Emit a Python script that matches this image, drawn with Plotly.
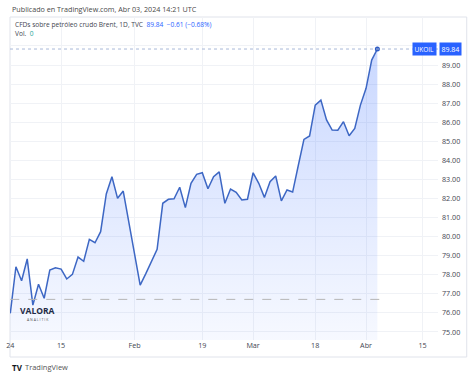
import plotly.graph_objects as go
import pandas as pd

# ---- data ----
closes = [75.98, 78.42, 77.69, 78.83, 76.41, 77.50, 76.77, 78.25, 78.37, 78.30,
          77.78, 78.02, 78.93, 78.71, 79.86, 79.68, 80.26, 82.24, 83.14, 82.01,
          82.39, 80.75, 79.10, 77.46, 78.06, 78.70, 79.34, 81.75, 81.96, 81.99,
          82.59, 81.52, 82.80, 83.27, 83.35, 82.51, 83.14, 83.40, 81.75, 82.50,
          82.32, 81.92, 81.96, 83.35, 82.80, 82.06, 82.88, 83.18, 81.88, 82.45,
          82.34, 83.73, 85.10, 85.28, 86.90, 87.16, 86.12, 85.59, 85.58, 86.03,
          85.29, 85.68, 86.90, 87.78, 89.26, 89.84]
last_price = 89.84
ref_level = 76.71
tick_dates = ["2024-01-02", "2024-01-15", "2024-02-01", "2024-02-19",
              "2024-03-01", "2024-03-18", "2024-04-01", "2024-04-15"]
tick_labels = ["24", "15", "Feb", "19", "Mar", "18", "Abr", "15"]
y_ticks = list(range(75, 91))
y_labels = ["%.2f" % v for v in y_ticks[:-1]] + [""]   # 90.00 sits behind the price tag

# trading-day calendar (bar index axis like TradingView)
calendar = pd.bdate_range("2024-01-02", "2024-04-30")
calendar = [d for d in calendar if d != pd.Timestamp("2024-03-29")]
x_idx = list(range(len(closes)))
tick_idx = [calendar.index(pd.Timestamp(d)) for d in tick_dates]

W, H = 474, 378
L, R, T, B = 6, 438, 17, 340


def px(xp):
    return (xp - L) / (R - L)


def py(yp):
    return (B - yp) / (B - T)


blue = "#2962ff"
line_col = "#3d67c4"

fig = go.Figure()
fig.add_trace(go.Scatter(
    x=x_idx, y=closes, mode="lines",
    line=dict(color=line_col, width=1.5),
    fill="tozeroy",
    fillgradient=dict(type="vertical",
                      colorscale=[[0, "rgba(41,98,255,0.04)"], [1, "rgba(41,98,255,0.25)"]],
                      start=74.6, stop=last_price),
    hoverinfo="skip", showlegend=False))
fig.add_trace(go.Scatter(
    x=[x_idx[-1]], y=[closes[-1]], mode="markers",
    marker=dict(color="#2f5bc4", size=5), showlegend=False, hoverinfo="skip"))

shapes = [
    dict(type="line", xref="paper", yref="y", x0=0, x1=1, y0=last_price, y1=last_price,
         line=dict(color="#a9b8d8", width=1, dash="dot")),
    dict(type="line", xref="x", yref="y", x0=0, x1=65.6, y0=ref_level, y1=ref_level,
         line=dict(color="#b5b5b5", width=1, dash="dash")),
    dict(type="rect", xref="paper", yref="paper", x0=px(6), x1=px(467), y0=py(357), y1=py(17),
         line=dict(color="#e0e3eb", width=1), layer="below"),
]

ann = []
font = "Open Sans"
ann.append(dict(x=px(6), y=py(9), xref="paper", yref="paper", xanchor="left", yanchor="middle",
                text="Publicado en TradingView.com, Abr 03, 2024 14:21 UTC",
                showarrow=False, font=dict(family=font, size=7.2, color="#4a4a4a")))
ann.append(dict(x=px(9.5), y=py(24.5), xref="paper", yref="paper", xanchor="left", yanchor="middle",
                text='CFDs sobre petróleo crudo Brent, 1D, TVC  <span style="color:%s">89.84</span>  '
                     '<span style="color:%s">−0.61 (−0.68%%)</span>' % (blue, blue),
                showarrow=False, font=dict(family=font, size=6.6, color="#434651")))
ann.append(dict(x=px(9.5), y=py(33.5), xref="paper", yref="paper", xanchor="left", yanchor="middle",
                text='Vol.  <span style="color:#26a69a">0</span>',
                showarrow=False, font=dict(family=font, size=6.6, color="#434651")))
ann.append(dict(x=px(424.5), y=last_price, xref="paper", yref="y", xanchor="center", yanchor="middle",
                text="UKOIL", bgcolor=blue, borderpad=1.5, showarrow=False,
                font=dict(family=font, size=6.5, color="white")))
ann.append(dict(x=px(451), y=last_price, xref="paper", yref="y", xanchor="center", yanchor="middle",
                text="89.84", bgcolor=blue, borderpad=1.5, showarrow=False,
                font=dict(family=font, size=7, color="white")))
ann.append(dict(x=px(34), y=py(310.5), xref="paper", yref="paper", xanchor="center", yanchor="middle",
                text="<b>VALORA</b>", showarrow=False,
                font=dict(family=font, size=8.5, color="#1f2b47")))
ann.append(dict(x=px(34), y=py(319), xref="paper", yref="paper", xanchor="center", yanchor="middle",
                text="A N A L I T I K", showarrow=False,
                font=dict(family=font, size=3.5, color="#555")))
ann.append(dict(x=px(6), y=py(367), xref="paper", yref="paper", xanchor="left", yanchor="middle",
                text="<b>TV</b>", showarrow=False,
                font=dict(family=font, size=8, color="#131722")))
ann.append(dict(x=px(19), y=py(367), xref="paper", yref="paper", xanchor="left", yanchor="middle",
                text="TradingView", showarrow=False,
                font=dict(family=font, size=7.5, color="#555")))

fig.update_layout(
    width=W, height=H,
    margin=dict(l=L, r=W - R, t=T, b=H - B),
    paper_bgcolor="white", plot_bgcolor="white",
    shapes=shapes, annotations=ann, showlegend=False,
    xaxis=dict(range=[-0.05, (R - L) / 5.7 - 0.05], tickvals=tick_idx, ticktext=tick_labels,
               showgrid=True, gridcolor="#f0f2f6", gridwidth=1, zeroline=False, showline=False,
               ticks="", tickfont=dict(family=font, size=7.2, color="#434651")),
    yaxis=dict(range=[74.58, 91.52], side="right", tickvals=y_ticks, ticktext=y_labels,
               showgrid=True, gridcolor="#f0f2f6", gridwidth=1, zeroline=False, showline=False,
               ticks="", ticklabelstandoff=3,
               tickfont=dict(family=font, size=7.2, color="#434651")),
)

fig.write_html("out.html", config={"displayModeBar": False, "staticPlot": True},
               post_script="document.body.style.margin='0';")
